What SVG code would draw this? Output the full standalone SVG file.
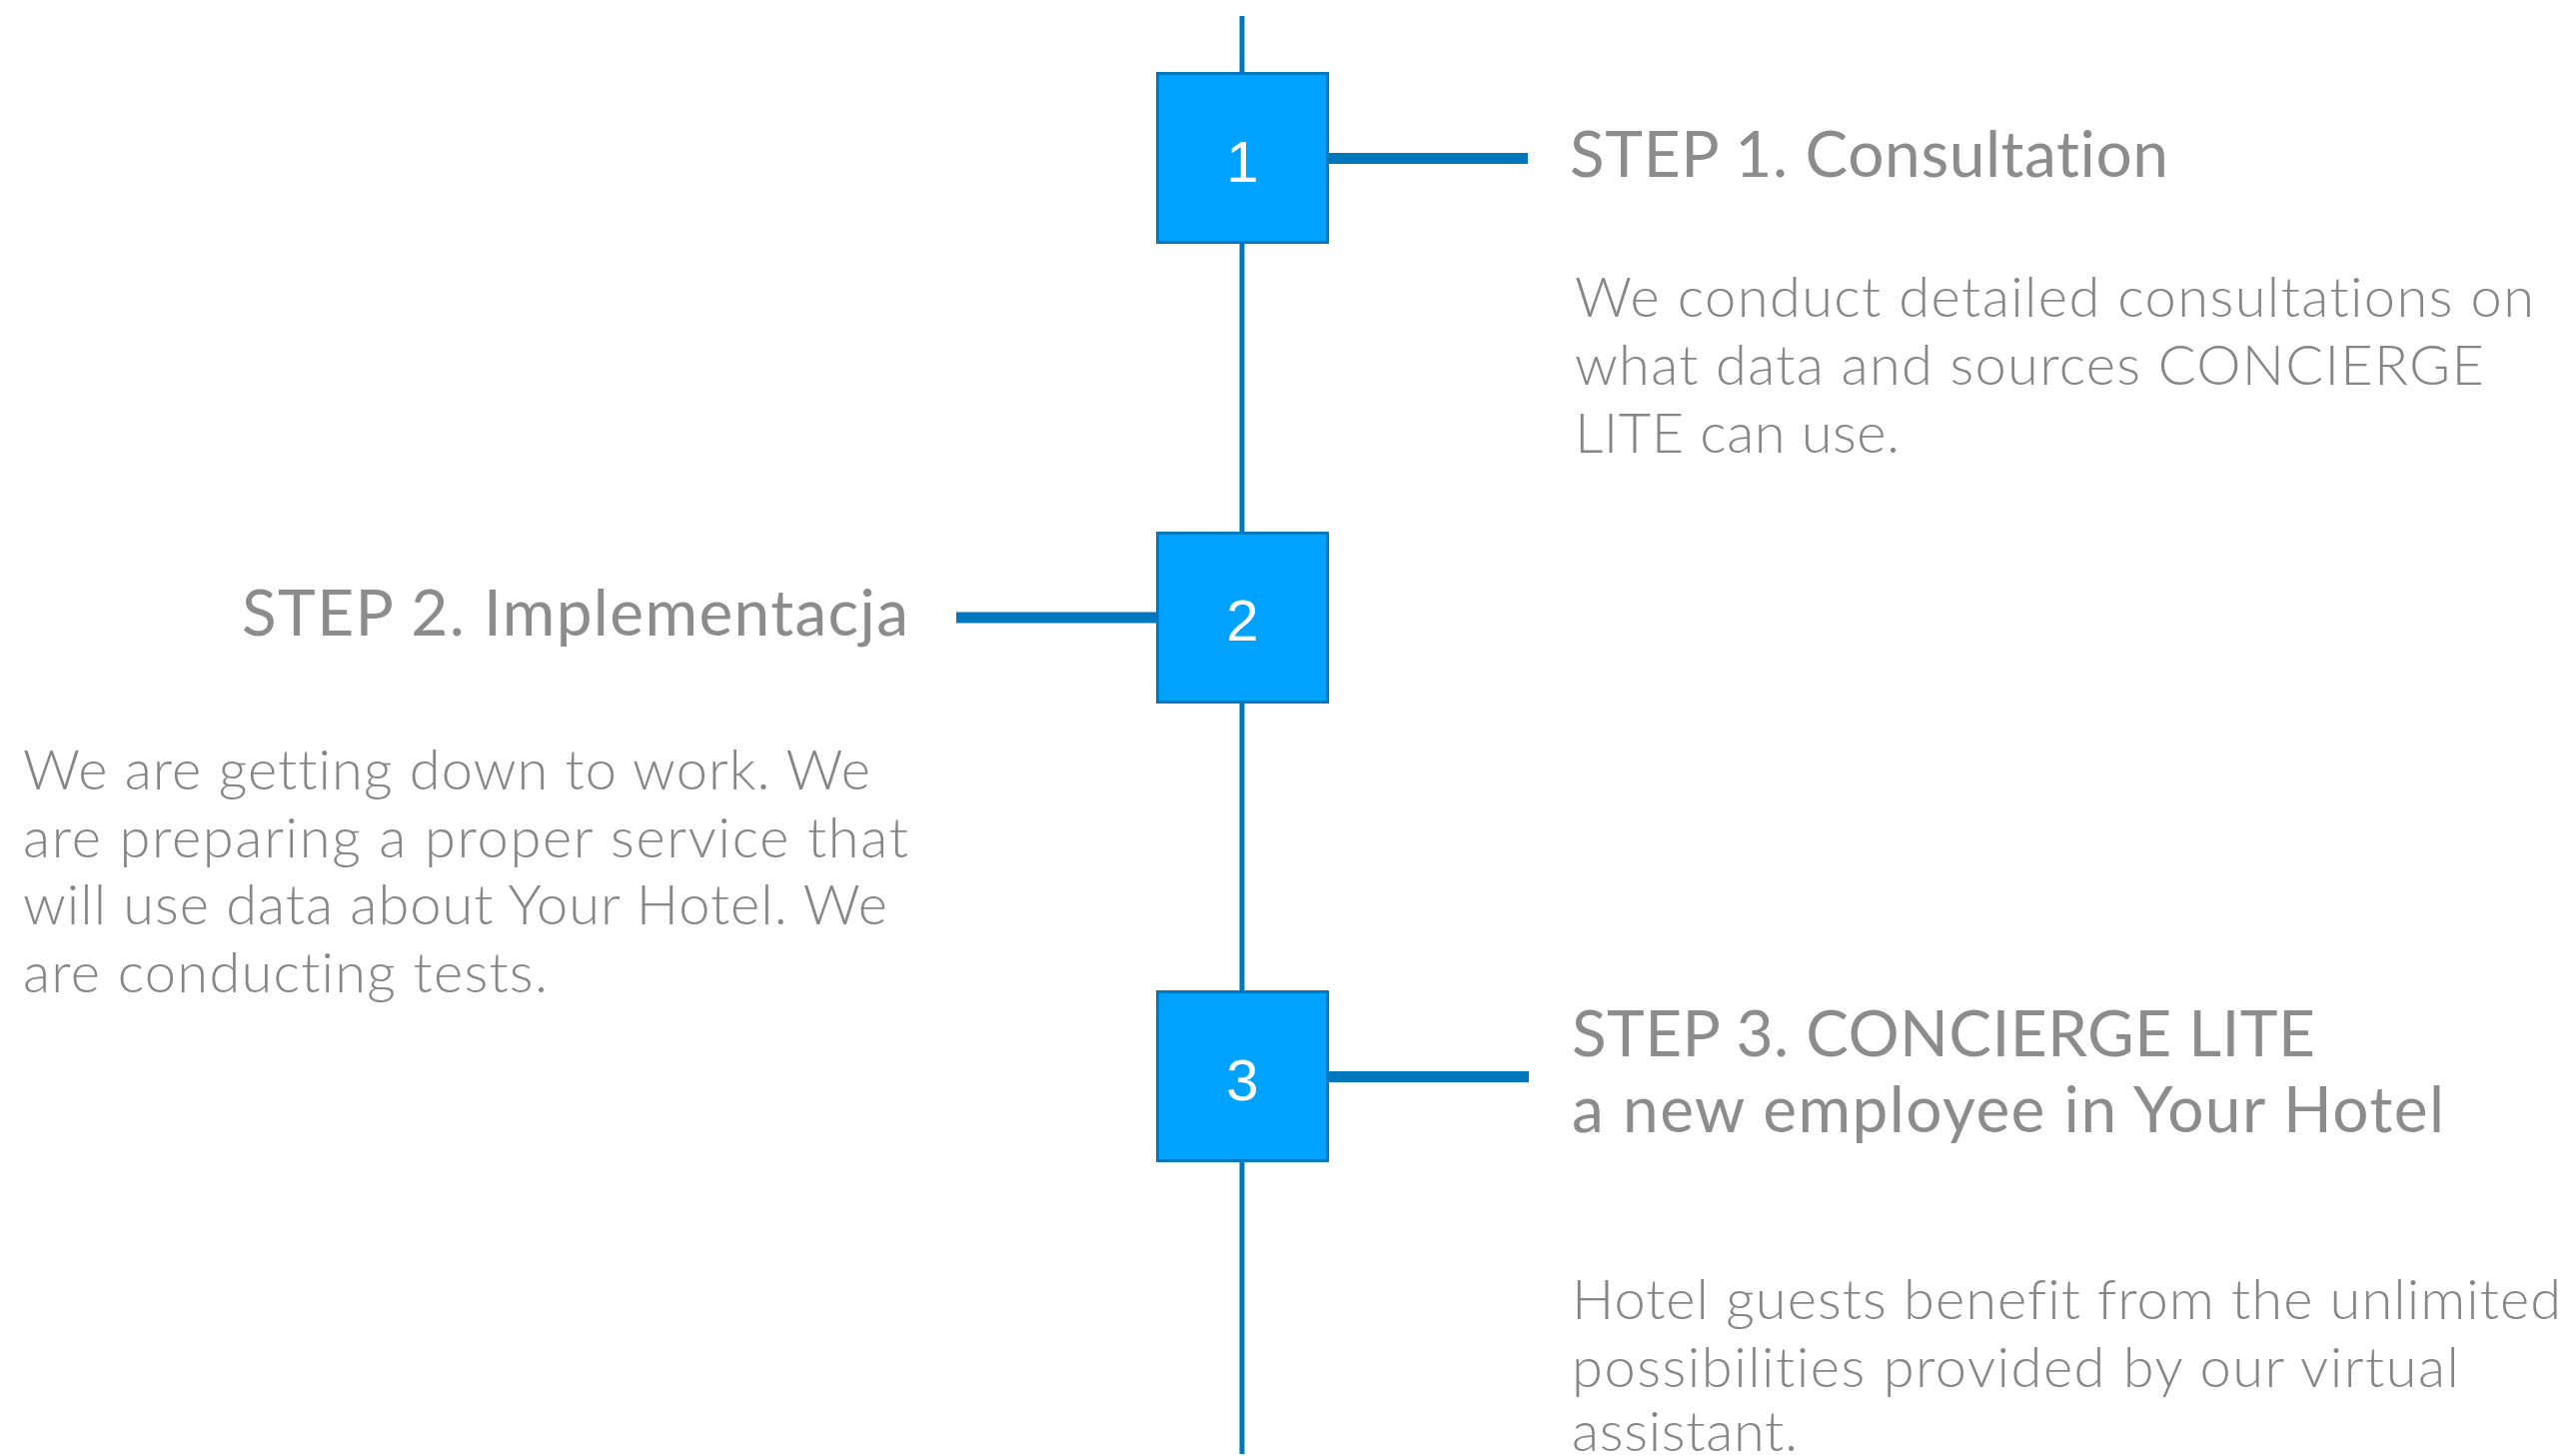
<svg xmlns="http://www.w3.org/2000/svg" width="2578" height="1457" viewBox="0 0 2578 1457">
<style>
.box{fill:#00A2FF;stroke:#0079C1;stroke-width:3}
.num{font-family:"Liberation Sans",Arial,sans-serif;font-size:58px;fill:#FFFFFF;text-anchor:middle}
.title{font-family:Lato,"Open Sans",sans-serif;font-size:64px;fill:#8C8C8C;font-variant-ligatures:none}
.body{font-family:Lato,"Open Sans",sans-serif;font-size:56px;fill:#868686;font-weight:300;font-variant-ligatures:none}
.vline{stroke:#0077BD;stroke-width:5;fill:none}
.stub{stroke:#0077BD;stroke-width:11;fill:none}
</style>
<rect width="2578" height="1457" fill="#FFFFFF"/>
<g id="connectors">
<line class="vline" x1="1243" y1="16" x2="1243" y2="74"/>
<line class="vline" x1="1243" y1="242" x2="1243" y2="534"/>
<line class="vline" x1="1243" y1="702" x2="1243" y2="993"/>
<line class="vline" x1="1243" y1="1161" x2="1243" y2="1455"/>
<line class="stub" x1="1329" y1="158.5" x2="1529" y2="158.5"/>
<line class="stub" x1="957" y1="618" x2="1158" y2="618"/>
<line class="stub" x1="1329" y1="1077.5" x2="1530" y2="1077.5"/>
</g>
<g id="step1">
<rect class="box" x="1158.5" y="73.5" width="170" height="169"/>
<text class="num" x="1243.5" y="182">1</text>
<text class="title" x="1571" y="177" textLength="599" lengthAdjust="spacing">STEP 1. Consultation</text>
<text class="body" x="1576" y="317" textLength="960" lengthAdjust="spacing">We conduct detailed consultations on</text>
<text class="body" x="1576" y="385" textLength="910" lengthAdjust="spacing">what data and sources CONCIERGE</text>
<text class="body" x="1576" y="453" textLength="325" lengthAdjust="spacing">LITE can use.</text>
</g>
<g id="step2">
<rect class="box" x="1158.5" y="533.5" width="170" height="169"/>
<text class="num" x="1243.5" y="641">2</text>
<text class="title" x="242" y="636" textLength="667" lengthAdjust="spacing">STEP 2. Implementacja</text>
<text class="body" x="23" y="790" textLength="848" lengthAdjust="spacing">We are getting down to work. We</text>
<text class="body" x="23" y="858" textLength="886" lengthAdjust="spacing">are preparing a proper service that</text>
<text class="body" x="23" y="925" textLength="865" lengthAdjust="spacing">will use data about Your Hotel. We</text>
<text class="body" x="23" y="993" textLength="525" lengthAdjust="spacing">are conducting tests.</text>
</g>
<g id="step3">
<rect class="box" x="1158.5" y="992.5" width="170" height="169"/>
<text class="num" x="1243.5" y="1101">3</text>
<text class="title" x="1573" y="1057" textLength="744" lengthAdjust="spacing">STEP 3. CONCIERGE LITE</text>
<text class="title" x="1573" y="1133" textLength="873" lengthAdjust="spacing">a new employee in Your Hotel</text>
<text class="body" x="1573" y="1320" textLength="990" lengthAdjust="spacing">Hotel guests benefit from the unlimited</text>
<text class="body" x="1573" y="1388" textLength="888" lengthAdjust="spacing">possibilities provided by our virtual</text>
<text class="body" x="1573" y="1452" textLength="226" lengthAdjust="spacing">assistant.</text>
</g>
</svg>
